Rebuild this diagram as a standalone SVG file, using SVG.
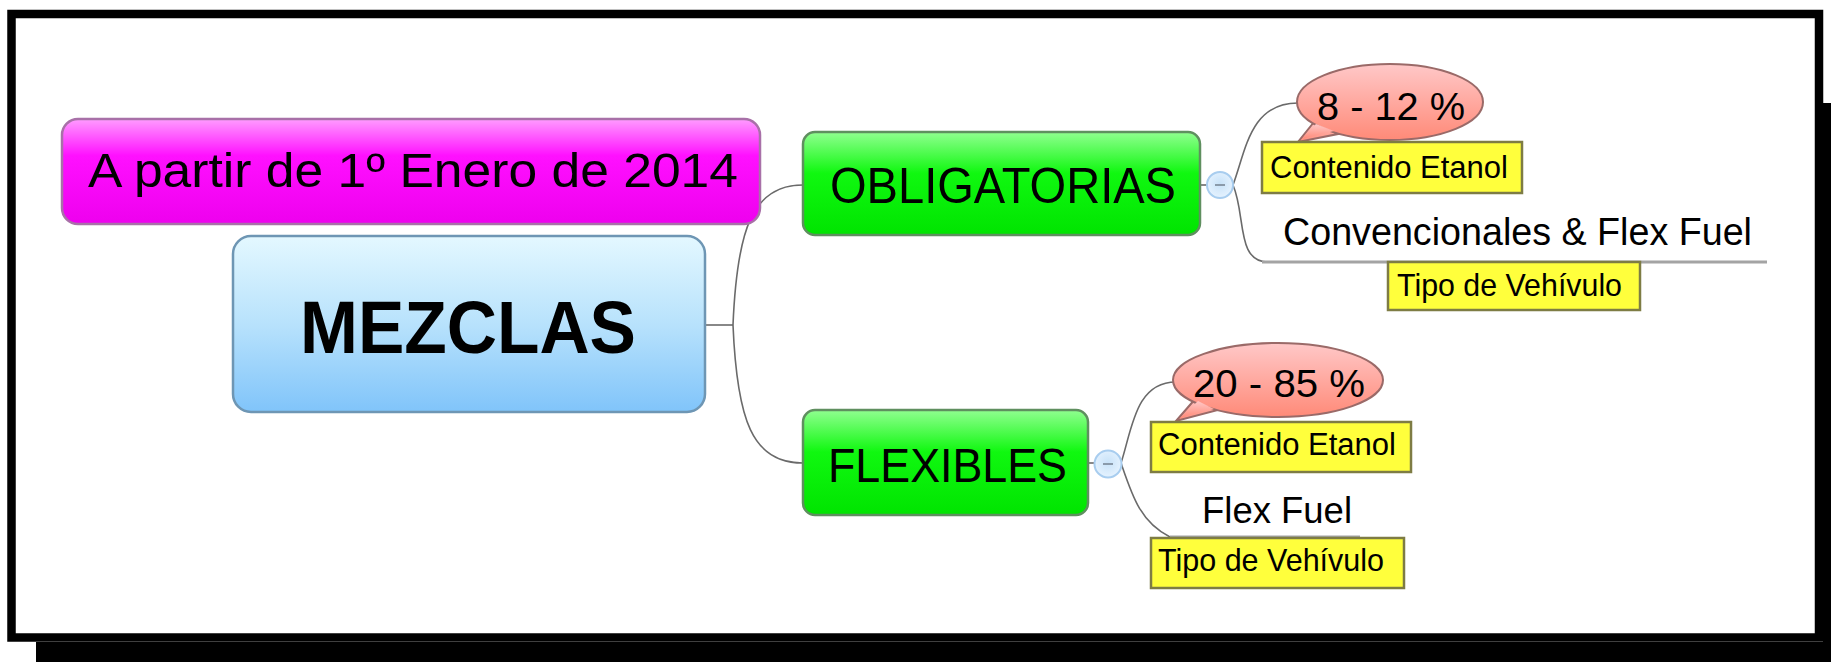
<svg xmlns="http://www.w3.org/2000/svg" width="1831" height="662" viewBox="0 0 1831 662">
<defs>
<linearGradient id="gPink" x1="0" y1="0" x2="0" y2="1">
<stop offset="0" stop-color="#ff9cff"/><stop offset="0.35" stop-color="#ff10ff"/><stop offset="1" stop-color="#ee00ee"/>
</linearGradient>
<linearGradient id="gBlue" x1="0" y1="0" x2="0" y2="1">
<stop offset="0" stop-color="#e4f8ff"/><stop offset="0.5" stop-color="#b8e2fc"/><stop offset="1" stop-color="#80c4fa"/>
</linearGradient>
<linearGradient id="gGreen" x1="0" y1="0" x2="0" y2="1">
<stop offset="0" stop-color="#90ff90"/><stop offset="0.4" stop-color="#10f810"/><stop offset="1" stop-color="#00e400"/>
</linearGradient>
<linearGradient id="gBubble" x1="0" y1="0" x2="0" y2="1">
<stop offset="0" stop-color="#ffc8c8"/><stop offset="1" stop-color="#ff8a78"/>
</linearGradient>
<radialGradient id="gCirc" cx="0.5" cy="0.45" r="0.6">
<stop offset="0" stop-color="#c8e2f8"/><stop offset="1" stop-color="#e8f4ff"/>
</radialGradient>
</defs>
<style>
.t{font-family:"Liberation Sans",Arial,sans-serif;fill:#000}
.con{fill:none;stroke:#6a6a6a;stroke-width:1.6}
.note{fill:#ffff3c;stroke:#7e7c44;stroke-width:2.5}
.bub{fill:url(#gBubble);stroke:#9a6a68;stroke-width:2}
.green{fill:url(#gGreen);stroke:#5f8f5f;stroke-width:2.5}
.circ{fill:url(#gCirc);stroke:#a8cdef;stroke-width:2}
</style>
<rect x="0" y="0" width="1831" height="662" fill="#ffffff"/>
<g id="frame">
<rect x="36" y="642" width="1795" height="20" fill="#000"/>
<rect x="1823" y="103" width="8" height="559" fill="#000"/>
<rect x="11.5" y="14" width="1807.5" height="623.5" fill="#ffffff" stroke="#000" stroke-width="8.5"/>
</g>
<g id="connectors">
<path class="con" d="M705,325 L733,325"/>
<path class="con" d="M733,325 C737,230 752,185 803,185"/>
<path class="con" d="M733,325 C737,420 752,463 803,463"/>
<path class="con" d="M1200,185 L1208,185"/>
<path class="con" d="M1233,185 C1246,150 1250,103 1298,103"/>
<path class="con" d="M1233,185 C1246,215 1236,262 1268,262"/>
<path d="M1262,262 L1767,262" fill="none" stroke="#a4a4a4" stroke-width="3"/>
<path class="con" d="M1088,463 L1095,463"/>
<path class="con" d="M1121,463 C1132,430 1135,382 1176,382"/>
<path class="con" d="M1121,463 C1132,495 1140,522 1170,537"/>
<path d="M1170,537 L1360,537" fill="none" stroke="#a4a4a4" stroke-width="3"/>
</g>
<g id="node-fecha">
<rect x="62" y="119" width="698" height="105" rx="16" fill="url(#gPink)" stroke="#a870a8" stroke-width="2.5"/>
<text class="t" x="88" y="187" font-size="49" textLength="650" lengthAdjust="spacingAndGlyphs">A partir de 1º Enero de 2014</text>
</g>
<g id="node-mezclas">
<rect x="233" y="236" width="472" height="176" rx="18" fill="url(#gBlue)" stroke="#6e96b4" stroke-width="2.5"/>
<text class="t" x="300" y="353" font-size="74" font-weight="bold" textLength="336" lengthAdjust="spacingAndGlyphs">MEZCLAS</text>
</g>
<g id="node-obligatorias">
<rect class="green" x="803" y="132" width="397" height="103" rx="12"/>
<text class="t" x="830" y="203" font-size="50" textLength="346" lengthAdjust="spacingAndGlyphs">OBLIGATORIAS</text>
</g>
<g id="toggle-obligatorias">
<circle class="circ" cx="1220" cy="185" r="13"/>
<path d="M1215,185 L1225,185" stroke="#8a9aaa" stroke-width="2"/>
</g>
<g id="node-8-12">
<path class="bub" d="M1314,122 L1298,142 L1338,134 Z"/>
<ellipse class="bub" cx="1390" cy="102" rx="93" ry="38"/>
<path d="M1316,124 L1302,139 L1334,131" fill="url(#gBubble)" stroke="none"/>
<text class="t" x="1317" y="120" font-size="39" textLength="148" lengthAdjust="spacingAndGlyphs">8 - 12 %</text>
<rect class="note" x="1262" y="142" width="260" height="51"/>
<text class="t" x="1270" y="178" font-size="32" textLength="238" lengthAdjust="spacingAndGlyphs">Contenido Etanol</text>
</g>
<g id="node-convencionales">
<text class="t" x="1283" y="245" font-size="38" textLength="469" lengthAdjust="spacingAndGlyphs">Convencionales &amp; Flex Fuel</text>
<rect class="note" x="1388" y="262" width="252" height="48"/>
<text class="t" x="1397" y="296" font-size="32" textLength="225" lengthAdjust="spacingAndGlyphs">Tipo de Vehívulo</text>
</g>
<g id="node-flexibles">
<rect class="green" x="803" y="410" width="285" height="105" rx="12"/>
<text class="t" x="828" y="482" font-size="49" textLength="239" lengthAdjust="spacingAndGlyphs">FLEXIBLES</text>
</g>
<g id="toggle-flexibles">
<circle class="circ" cx="1108" cy="464" r="13.5"/>
<path d="M1103,464 L1113,464" stroke="#8a9aaa" stroke-width="2"/>
</g>
<g id="node-20-85">
<path class="bub" d="M1196,398 L1176,421 L1218,410 Z"/>
<ellipse class="bub" cx="1278" cy="380" rx="105" ry="37"/>
<path d="M1198,401 L1180,418 L1214,409" fill="url(#gBubble)" stroke="none"/>
<text class="t" x="1193" y="397" font-size="38" textLength="172" lengthAdjust="spacingAndGlyphs">20 - 85 %</text>
<rect class="note" x="1151" y="422" width="260" height="50"/>
<text class="t" x="1158" y="455" font-size="31" textLength="238" lengthAdjust="spacingAndGlyphs">Contenido Etanol</text>
</g>
<g id="node-flexfuel">
<text class="t" x="1202" y="523" font-size="37" textLength="150" lengthAdjust="spacingAndGlyphs">Flex Fuel</text>
<rect class="note" x="1151" y="538" width="253" height="50"/>
<text class="t" x="1158" y="571" font-size="32" textLength="226" lengthAdjust="spacingAndGlyphs">Tipo de Vehívulo</text>
</g>
</svg>
